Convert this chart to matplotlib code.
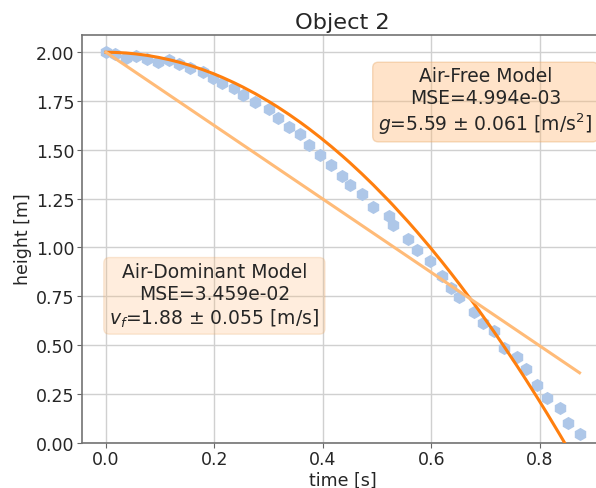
import numpy as np
import matplotlib
matplotlib.use('Agg')
import matplotlib.pyplot as plt

# measured positions (time [s], height [m]) for object 2
t_data = [0.0, 0.0165, 0.0368, 0.0546, 0.0759, 0.0961, 0.1158, 0.1347, 0.1544, 0.1789,
          0.1972, 0.2145, 0.2358, 0.2524, 0.2757, 0.3015, 0.3167, 0.3382, 0.3585, 0.375,
          0.3952, 0.416, 0.4362, 0.4504, 0.4719, 0.4932, 0.522, 0.5294, 0.5575, 0.5741,
          0.5969, 0.62, 0.6366, 0.652, 0.6789, 0.6949, 0.715, 0.7347, 0.7592, 0.7744,
          0.7954, 0.8138, 0.8377, 0.8529, 0.8737]
h_data = [2.0, 1.993, 1.969, 1.983, 1.965, 1.952, 1.962, 1.942, 1.919, 1.897,
          1.868, 1.842, 1.816, 1.782, 1.747, 1.708, 1.665, 1.615, 1.579, 1.524,
          1.476, 1.424, 1.366, 1.321, 1.275, 1.206, 1.163, 1.117, 1.043, 0.988,
          0.928, 0.851, 0.794, 0.747, 0.670, 0.610, 0.571, 0.485, 0.437, 0.378,
          0.295, 0.227, 0.179, 0.102, 0.045]

# fit results
h0 = 2.0
g_fit, g_err, mse_free = 5.59, 0.061, 4.994e-03
vf_fit, vf_err, mse_air = 1.88, 0.055, 3.459e-02

txt_col = '#262626'
plt.rcParams['font.family'] = 'DejaVu Sans'

fig = plt.figure(figsize=(5.96, 4.89), dpi=100)
ax = fig.add_axes([0.1381, 0.093, 0.874, 0.834])

t = np.array(t_data)
ax.plot(t_data, h_data, linestyle='none', marker='h', ms=9.5, color='#aec7e8',
        markeredgewidth=0, zorder=3)
ax.plot(t, h0 - 0.5 * g_fit * t**2, color='#ff7f0e', lw=2.2, zorder=4)
ax.plot(t, h0 - vf_fit * t, color='#ffbb78', lw=2.2, zorder=4)

ax.set_ylim(0, 2.09)
ax.set_yticks(np.arange(0, 2.01, 0.25))
ax.set_xticks([0.0, 0.2, 0.4, 0.6, 0.8])

box_fs = 13.5
ax.text(0.7, 1.75, 'Air-Free Model\nMSE=%.3e\n$g$=%.2f $\\pm$ %.3f [m/s$^2$]' % (mse_free, g_fit, g_err),
        ha='center', va='center', fontsize=box_fs, color=txt_col, zorder=5,
        bbox=dict(boxstyle='round,pad=0.3', facecolor='#ffbb78', edgecolor='#e8a868', alpha=0.4))
ax.text(0.2, 0.755, 'Air-Dominant Model\nMSE=%.3e\n$v_f$=%.2f $\\pm$ %.3f [m/s]' % (mse_air, vf_fit, vf_err),
        ha='center', va='center', fontsize=box_fs, color=txt_col, zorder=5,
        bbox=dict(boxstyle='round,pad=0.3', facecolor='#ffbb78', edgecolor='#e8a868', alpha=0.25))

ax.set_title('Object 2', fontsize=16.2, color=txt_col, pad=5)
ax.set_xlabel('time [s]', fontsize=12.5, color=txt_col, labelpad=2)
ax.set_ylabel('height [m]', fontsize=12.5, color=txt_col, labelpad=3)
ax.tick_params(labelsize=12.5, labelcolor=txt_col, color='0.4', length=3.5, pad=2)
ax.grid(True, color='#d0d0d0', lw=1)
ax.set_axisbelow(True)
for s in ax.spines.values():
    s.set_color('0.45')
    s.set_linewidth(1.2)

fig.savefig('out.png', dpi=100)
